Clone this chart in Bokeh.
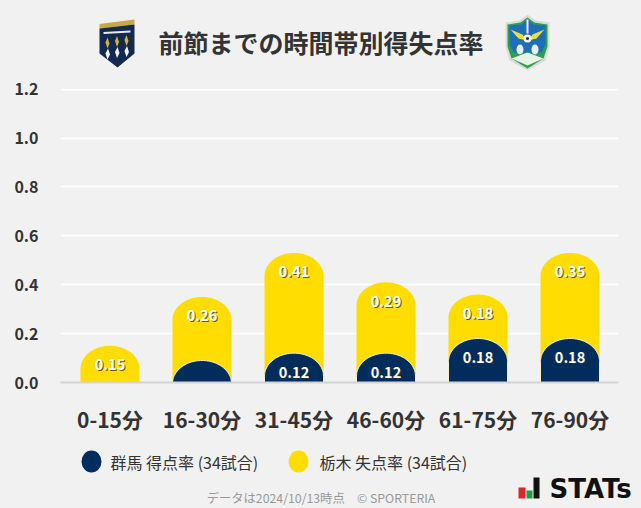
import numpy as np
from bokeh.plotting import figure
from bokeh.layouts import column
from bokeh.models import Range1d, FixedTicker, ColumnDataSource
from bokeh.core.properties import value
from bokeh.embed import file_html
from bokeh.resources import INLINE

title = "前節までの時間帯別得失点率"
categories = ["0-15分", "16-30分", "31-45分", "46-60分", "61-75分", "76-90分"]
gunma_scored = [0.0, 0.09, 0.12, 0.12, 0.18, 0.18]
tochigi_conceded = [0.15, 0.26, 0.41, 0.29, 0.18, 0.35]
gunma_labels = ["", "", "0.12", "0.12", "0.18", "0.18"]
tochigi_labels = ["0.15", "0.26", "0.41", "0.29", "0.18", "0.35"]
y_ticks = [0.0, 0.2, 0.4, 0.6, 0.8, 1.0, 1.2]
legend_names = ["群馬 得点率 (34試合)", "栃木 失点率 (34試合)"]
footer = "データは2024/10/13時点　© SPORTERIA"

BG = "#f1f1f1"
NAVY = "#002d5c"
YELLOW = "#ffdd00"
FONT = "Noto Sans CJK JP"
W = 641
HEAD_H = 72
FOOT_TOP = 440
TOTAL_H = 508
LEFT, TOP, FW, FH = 60, 88, 558, 294
BOTTOM = TOP + FH


def band(y0, y1):
    f = figure(width=W, height=y1 - y0, min_border=0, x_range=Range1d(0, W), y_range=Range1d(y1, y0),
               output_backend="svg", toolbar_location=None, background_fill_color=BG,
               border_fill_color=BG, outline_line_color=None, frame_align=False)
    f.axis.visible = False
    f.grid.visible = False
    return f


head = band(0, HEAD_H)
foot = band(FOOT_TOP, TOTAL_H)

p = figure(width=W, height=FOOT_TOP - HEAD_H,
           min_border_left=LEFT, min_border_right=W - LEFT - FW,
           min_border_top=TOP - HEAD_H, min_border_bottom=FOOT_TOP - BOTTOM,
           x_range=Range1d(-0.538, 5.527), y_range=Range1d(0, 1.203),
           output_backend="svg", toolbar_location=None, frame_align=False,
           background_fill_color=BG, border_fill_color=BG, outline_line_color=None)

p.xaxis.ticker = FixedTicker(ticks=list(range(len(categories))))
p.xaxis.major_label_overrides = {i: c for i, c in enumerate(categories)}
p.yaxis.ticker = FixedTicker(ticks=y_ticks)
p.yaxis.major_label_overrides = {t: f"{t:.1f}" for t in y_ticks}
p.xgrid.visible = False
p.ygrid.grid_line_color = "white"
p.ygrid.grid_line_width = 2
for ax in (p.xaxis, p.yaxis):
    ax.major_tick_line_color = None
    ax.minor_tick_line_color = None
    ax.major_label_text_font = FONT
    ax.major_label_text_font_style = "bold"
    ax.major_label_text_color = "#333333"
p.yaxis.axis_line_color = None
p.yaxis.major_label_text_font_size = "16px"
p.yaxis.major_label_standoff = 16
p.xaxis.axis_line_color = "#d4d4d4"
p.xaxis.axis_line_width = 2
p.xaxis.major_label_text_font_size = "21px"
p.xaxis.major_label_standoff = 15

PX_PER_UNIT = FH / 1.203
HALF_W = 29.5 / 92
ARC = 23 / PX_PER_UNIT


def bar_outline(i, top):
    t = np.linspace(0, np.pi, 61)
    xs = i + HALF_W * np.cos(t)
    ys = top - ARC + ARC * np.sin(t)
    xs = np.concatenate([[i + HALF_W], xs, [i - HALF_W]])
    ys = np.concatenate([[min(0, top - ARC)], ys, [min(0, top - ARC)]])
    return xs.tolist(), ys.tolist()


totals = [a + b for a, b in zip(gunma_scored, tochigi_conceded)]
y_out = [bar_outline(i, t) for i, t in enumerate(totals)]
p.patches([o[0] for o in y_out], [o[1] for o in y_out], fill_color=YELLOW, line_color=None)
n_idx = [i for i, v in enumerate(gunma_scored) if v > 0]
n_out = [bar_outline(i, gunma_scored[i]) for i in n_idx]
p.patches([o[0] for o in n_out], [o[1] for o in n_out], fill_color=NAVY,
          line_color="#f4f0d0", line_width=1)


def value_labels(labels, tops):
    idx = [i for i, l in enumerate(labels) if l]
    src = ColumnDataSource(dict(x=idx, y=[tops[i] for i in idx], t=[labels[i] for i in idx]))
    common = dict(x="x", y="y", text="t", source=src, text_align="center", text_baseline="middle",
                  text_font=value(FONT), text_font_size="14.5px", text_font_style="bold")
    p.text(x_offset=1, y_offset=20, text_color="#333333", text_alpha=0.75, **common)
    p.text(x_offset=0, y_offset=19, text_color="white", **common)


value_labels(tochigi_labels, totals)
value_labels(gunma_labels, gunma_scored)


def poly(f, pts, color):
    f.patch([a for a, _ in pts], [b for _, b in pts], fill_color=color, line_color=None)


def oval(f, cx, cy, rx, ry, color):
    f.ellipse(x=[cx], y=[cy], width=2 * rx, height=2 * ry, fill_color=color, line_color=None)


def label(f, text, x, y, size, color="#333333", style="normal", align="left", font=FONT):
    f.text(x=[x], y=[y], text=[text], text_font=value(font), text_font_size=f"{size}px",
           text_font_style=style, text_color=color, text_align=align, text_baseline="middle")


label(head, title, 320.5, 41, 25, "#333333", "bold", "center")

oval(foot, 91, 461, 10, 11, NAVY)
oval(foot, 298, 461, 10, 11, YELLOW)
label(foot, legend_names[0], 110, 461, 16)
label(foot, legend_names[1], 319, 461, 16)
label(foot, footer, 320.5, 497, 12.3, "#999999", "normal", "center")

# STATs mark
poly(foot, [(518, 487), (525, 487), (525, 498), (518, 498)], "#d9262c")
poly(foot, [(526, 490), (532, 490), (532, 498), (526, 498)], "#1f9d4d")
poly(foot, [(533, 477), (539, 477), (539, 498), (533, 498)], "#111111")
label(foot, "STATs", 549, 488, 26, "#111111", "bold", "left", "DejaVu Sans")

# Gunma crest
poly(head, [(99, 23.5), (134, 19), (134, 24), (99, 28)], "#c8a83f")
poly(head, [(99, 28), (134, 24), (134, 53), (117, 67), (99, 53)], "#14294f")
poly(head, [(103, 31.5), (130, 30), (130, 32), (103, 33.5)], "#e8ebf0")
for cx, cy in ((107, 37), (116.5, 35.5), (126, 34.5)):
    poly(head, [(cx, cy), (cx + 2, cy + 6), (cx, cy + 11), (cx - 2, cy + 5)], "#d8b03a")
    poly(head, [(cx + 0.5, cy + 11), (cx + 2.5, cy + 17), (cx, cy + 22), (cx - 2, cy + 16)], "#f0f2f5")

# Tochigi crest
poly(head, [(527, 14), (535, 20), (549, 22), (549, 46), (545, 60), (527, 70), (509, 60), (505, 46), (505, 22), (519, 20)], "#d9dbd8")
poly(head, [(527, 17), (534, 22), (547, 24), (547, 46), (543, 58), (527, 68), (511, 58), (507, 46), (507, 24), (520, 22)], "#2e9e50")
poly(head, [(527, 19), (533, 24), (545, 25), (545, 44), (541, 52), (513, 52), (509, 44), (509, 25), (521, 24)], "#1f6fb8")
poly(head, [(510, 29), (522, 34), (526, 40), (518, 38)], "#e8df3a")
poly(head, [(544, 29), (532, 34), (528, 40), (536, 38)], "#e8df3a")
poly(head, [(511, 58), (527, 52), (543, 58), (527, 65)], "#e8f2e6")
oval(head, 527, 38, 4, 4, "#f2f2f2")
oval(head, 527, 38, 1.6, 1.6, "#333333")
poly(head, [(526, 19), (528, 19), (528, 33), (526, 33)], "#f2f2f2")
oval(head, 519.5, 49, 3.5, 5, "#e8eef2")
oval(head, 534.5, 49, 3.5, 5, "#e8eef2")

layout = column(head, p, foot, spacing=0)
html = file_html(layout, INLINE)
html = html.replace("</head>", f"<style>html,body{{background:{BG};}}</style></head>", 1)
open("out.html", "w").write(html)
